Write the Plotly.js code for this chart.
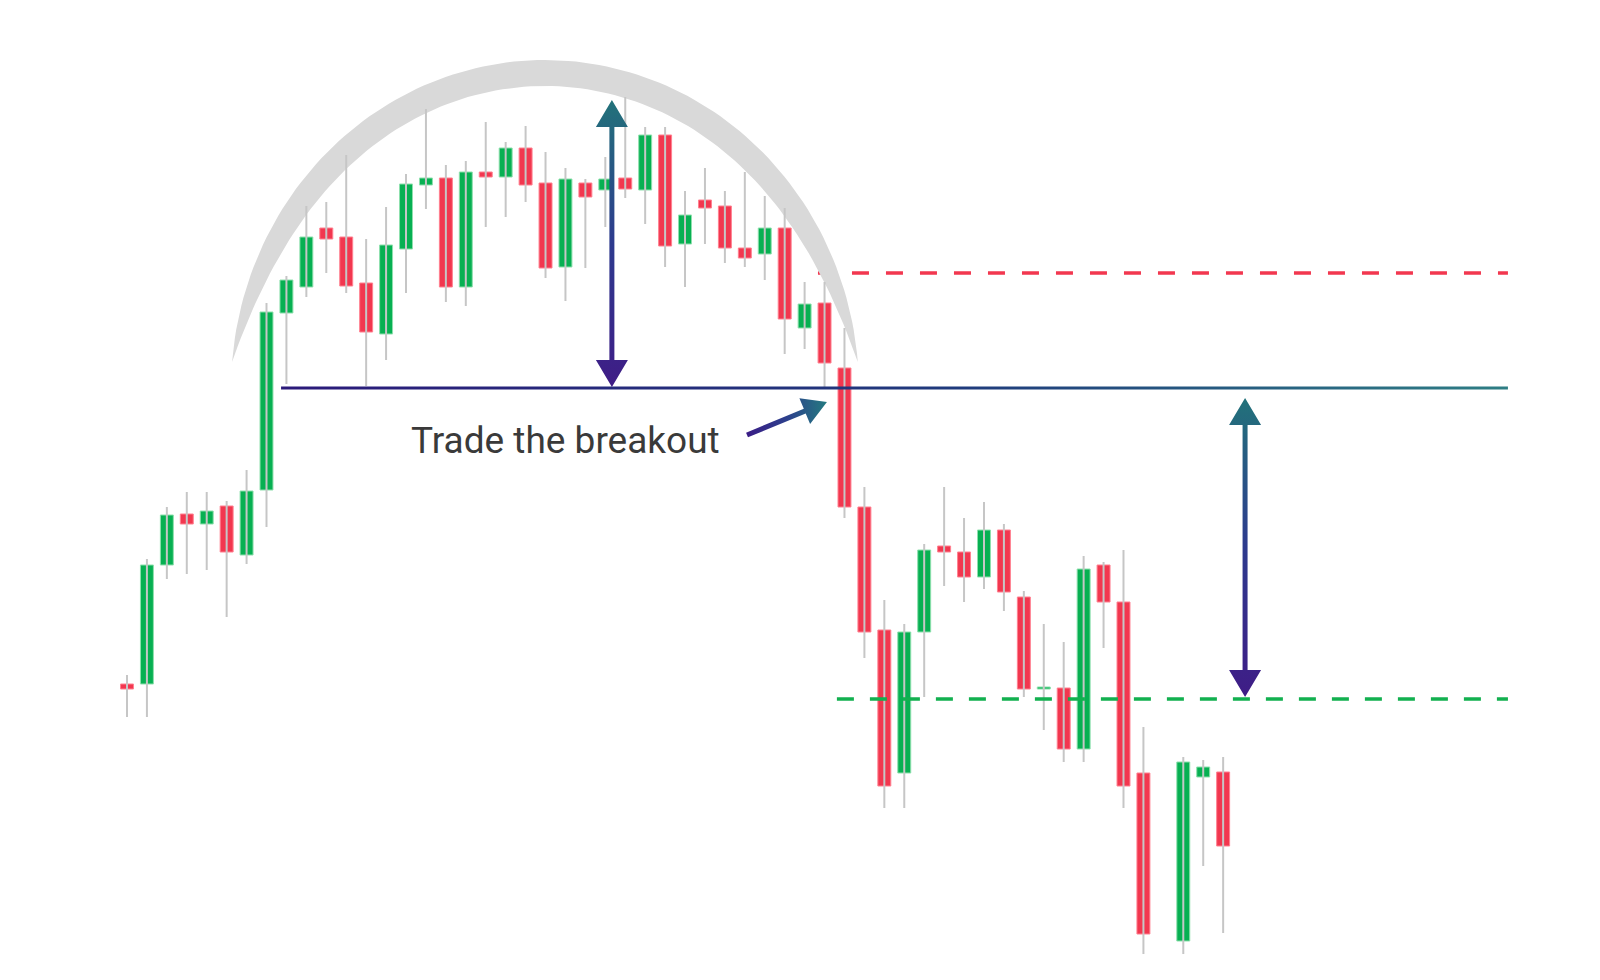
<!DOCTYPE html>
<html>
<head>
<meta charset="utf-8">
<script src="https://cdn.plot.ly/plotly-3.0.1.min.js"></script>
<style>
  html, body { margin: 0; padding: 0; background: #fff; }
  #chart { width: 1600px; height: 980px; }
</style>
</head>
<body>
<div id="chart"></div>
<script>
// candle values (price units), one slot left empty
var open  = [316,316,435,486,476,494,445,510,687,713,772,763,717,666,751,815,822,713,828,823,852,817,733,817,810,822,810,865,756,800,794,752,746,772,672,697,632,493,370,227,368,454,448,423,470,403,311,312,251,435,398,227,null,59,223,228];
var high  = [325,441,493,508,508,499,530,697,724,794,798,845,761,793,826,891,835,839,878,858,874,848,832,821,843,903,873,873,809,832,809,828,804,792,718,718,672,513,400,376,456,513,482,498,476,409,376,358,444,438,450,273,null,243,240,243];
var low   = [283,283,421,426,430,383,436,473,616,703,727,707,614,640,707,791,698,694,773,783,798,722,699,732,773,802,776,733,713,756,737,733,720,646,651,612,482,342,192,192,303,414,398,411,389,303,270,238,238,352,192,46,null,46,134,67];
var close = [311,435,485,476,489,448,509,688,720,763,761,714,668,755,816,822,713,828,823,852,815,732,821,803,821,811,865,754,785,792,752,742,772,681,696,637,493,368,214,368,450,448,423,470,408,311,313,251,431,398,214,66,null,238,233,154];

// pattern levels
var neckline = 612;
var resistance = 727;
var target = 301;

var upColor = '#07b052', downColor = '#f2374f';
var X0 = -6.372, PXU = 19.93;       // x index -> px scale
var X1 = X0 + 1600 / PXU;

var idx = open.map(function(v, i){ return i; });

// wicks
var wx = [], wy = [];
idx.forEach(function(i){
    if(open[i] === null) return;
    wx.push(i, i, null);
    wy.push(high[i], low[i], null);
});
var wicks = {
    x: wx, y: wy, mode: 'lines', hoverinfo: 'skip',
    line: {color: '#c6c6c6', width: 2}
};

// bodies
var bodies = {
    type: 'bar',
    x: idx,
    base: idx.map(function(i){ return open[i] === null ? null : Math.min(open[i], close[i]); }),
    y: idx.map(function(i){ return open[i] === null ? null : Math.max(Math.abs(close[i] - open[i]), 2); }),
    width: 0.65,
    marker: {
        color: idx.map(function(i){ return close[i] >= open[i] ? upColor : downColor; }),
        line: {width: 1, color: idx.map(function(i){ return close[i] >= open[i] ? '#8ee0ad' : '#ff8090'; })}
    },
    hoverinfo: 'skip'
};

// rounded top crescent: outer half ellipse, inner edge offset inwards, thinning to the tips
var cxA = 20.97, cyA = 610, aA = 314, bA = 330, tipY = 638, band = 26;
var tO = Math.asin((tipY - cyA) / bA);
var ox = [], oy = [], ix = [], iy = [];
for(var k = 0; k <= 120; k++){
    var t = Math.PI - tO - (Math.PI - 2 * tO) * k / 120;
    var px = aA * Math.cos(t), py = cyA + bA * Math.sin(t);
    var gx = Math.cos(t) / aA, gy = Math.sin(t) / bA, gl = Math.hypot(gx, gy);
    var u = Math.max(0, (py - tipY) / (cyA + bA - tipY));
    var th = band * (1 - Math.pow(1 - u, 3));
    ox.push(cxA + px / PXU); oy.push(py);
    ix.unshift(cxA + (px - th * gx / gl) / PXU); iy.unshift(py - th * gy / gl);
}
var crescent = {
    x: ox.concat(ix), y: oy.concat(iy),
    mode: 'lines', fill: 'toself', fillcolor: '#d9d9d9',
    line: {width: 0, color: 'rgba(0,0,0,0)'}, hoverinfo: 'skip'
};

// arrows as polygons (px space, 1 price unit = 1px)
function arrowPoly(x1, y1, x2, y2, w, h, hw, both){
    var X1p = x1 * PXU, Y1p = y1, X2p = x2 * PXU, Y2p = y2;
    var L = Math.hypot(X2p - X1p, Y2p - Y1p);
    var dx = (X2p - X1p) / L, dy = (Y2p - Y1p) / L;
    var nx = -dy, ny = dx;
    function p(bx, by, s){ return [bx + nx * s, by + ny * s]; }
    var B2 = [X2p - dx * h, Y2p - dy * h];
    var B1 = both ? [X1p + dx * h, Y1p + dy * h] : [X1p, Y1p];
    var pts = [[X2p, Y2p], p(B2[0], B2[1], hw), p(B2[0], B2[1], w), p(B1[0], B1[1], w)];
    if(both){
        pts.push(p(B1[0], B1[1], hw), [X1p, Y1p], p(B1[0], B1[1], -hw));
    }
    pts.push(p(B1[0], B1[1], -w), p(B2[0], B2[1], -w), p(B2[0], B2[1], -hw), [X2p, Y2p]);
    return {x: pts.map(function(q){ return q[0] / PXU; }), y: pts.map(function(q){ return q[1]; })};
}
function gradTrace(poly, type, scale){
    return {
        x: poly.x, y: poly.y, mode: 'lines', fill: 'toself',
        fillgradient: {type: type, colorscale: scale},
        line: {width: 0, color: 'rgba(0,0,0,0)'}, hoverinfo: 'skip'
    };
}
var vScale = [[0, '#3f1c86'], [0.5, '#2d3a8e'], [1, '#22727a']];
var leftArrow = gradTrace(arrowPoly(24.33, neckline + 1, 24.33, 900, 2.5, 27, 16, true), 'vertical', vScale);
var rightArrow = gradTrace(arrowPoly(56.1, target + 2, 56.1, neckline - 10, 2.5, 27, 16, true), 'vertical', vScale);
var smallArrow = gradTrace(arrowPoly(31.11, 565, 35.12, 598, 2.5, 24, 14, false), 'horizontal',
    [[0, '#3a1c86'], [0.5, '#2c3f8c'], [1, '#247a80']]);

var neckRect = {
    x: [7.73, 69.29, 69.29, 7.73, 7.73],
    y: [neckline - 1.5, neckline - 1.5, neckline + 1.5, neckline + 1.5, neckline - 1.5],
    mode: 'lines', fill: 'toself',
    fillgradient: {type: 'horizontal', colorscale: [[0, '#2b1a7a'], [0.55, '#1f3a7c'], [1, '#2e7e84']]},
    line: {width: 0, color: 'rgba(0,0,0,0)'}, hoverinfo: 'skip'
};

var redDash = {
    x: [34.67, 69.29], y: [resistance, resistance], mode: 'lines', hoverinfo: 'skip',
    line: {color: downColor, width: 3.5, dash: '17px,17px'}
};
var greenDash = {
    x: [35.62, 69.29], y: [target, target], mode: 'lines', hoverinfo: 'skip',
    line: {color: '#12b04f', width: 3.5, dash: '17px,16px'}
};

var layout = {
    width: 1600, height: 980,
    margin: {l: 0, r: 0, t: 0, b: 0},
    showlegend: false,
    paper_bgcolor: '#ffffff', plot_bgcolor: '#ffffff',
    xaxis: {visible: false, range: [X0, X1], fixedrange: true},
    yaxis: {visible: false, range: [20, 1000], fixedrange: true},
    annotations: [{
        text: 'Trade the breakout', x: 14.15, y: 560, xref: 'x', yref: 'y',
        xanchor: 'left', yanchor: 'middle', showarrow: false,
        font: {family: 'Roboto, "Liberation Sans", sans-serif', size: 37, color: '#3a3a3a'}
    }]
};

Plotly.newPlot('chart',
    [redDash, crescent, wicks, bodies, greenDash, neckRect, leftArrow, rightArrow, smallArrow],
    layout, {displayModeBar: false, staticPlot: true});
</script>
</body>
</html>
